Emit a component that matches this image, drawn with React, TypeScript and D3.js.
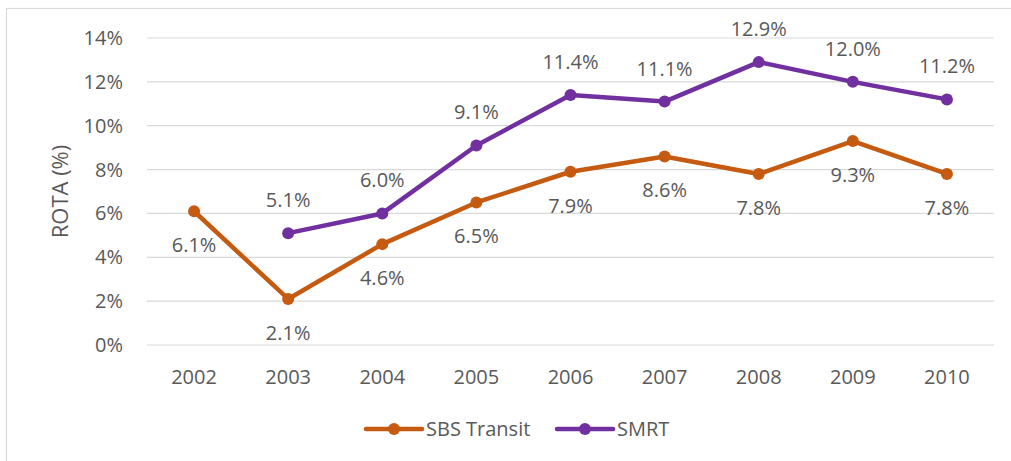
import React from "react";
import * as d3 from "d3";

const years = ["2002", "2003", "2004", "2005", "2006", "2007", "2008", "2009", "2010"];
const sbsTransit: (number | null)[] = [6.1, 2.1, 4.6, 6.5, 7.9, 8.6, 7.8, 9.3, 7.8];
const smrt: (number | null)[] = [null, 5.1, 6.0, 9.1, 11.4, 11.1, 12.9, 12.0, 11.2];
const yTicks = [0, 2, 4, 6, 8, 10, 12, 14];
const seriesNames = ["SBS Transit", "SMRT"];

const W = 1011;
const H = 461;
const FONT = "'Open Sans', 'Liberation Sans', sans-serif";
const TXT = "#595959";
const COLORS = ["#C55A11", "#7030A0"];
const FS = 20;

export default function App() {
  const x = d3.scaleBand<string>().domain(years).range([147, 994]);
  const y = d3.scaleLinear().domain([0, 14]).range([345, 38]);
  const cx = (d: string) => (x(d) as number) + x.bandwidth() / 2;

  const line = d3
    .line<{ year: string; v: number | null }>()
    .defined((d) => d.v !== null)
    .x((d) => cx(d.year))
    .y((d) => y(d.v as number));

  const series = [sbsTransit, smrt].map((vals) => years.map((yr, i) => ({ year: yr, v: vals[i] })));

  return (
    <svg width={W} height={H} style={{ position: "absolute", left: 0, top: 0 }}>
      <rect x={0} y={0} width={W} height={H} fill="#fff" />
      <rect x={6.5} y={8.5} width={W + 10} height={H + 10} fill="none" stroke="#d9d9d9" strokeWidth={1.2} />
      {yTicks.map((t) => (
        <g key={t}>
          <line x1={147} x2={994} y1={y(t)} y2={y(t)} stroke="#d9d9d9" strokeWidth={1.2} />
          <text x={123} y={y(t)} dy="0.35em" textAnchor="end" fontFamily={FONT} fontSize={FS} fill={TXT}>
            {t}%
          </text>
        </g>
      ))}
      {years.map((yr) => (
        <text key={yr} x={cx(yr)} y={377} dy="0.35em" textAnchor="middle" fontFamily={FONT} fontSize={FS} fill={TXT}>
          {yr}
        </text>
      ))}
      <text
        transform={`translate(60, ${(y(0) + y(14)) / 2}) rotate(-90)`}
        textAnchor="middle"
        dy="0.35em"
        fontFamily={FONT}
        fontSize={22}
        fill={TXT}
      >
        ROTA (%)
      </text>
      {series.map((s, si) => (
        <g key={si}>
          <path d={line(s) || ""} fill="none" stroke={COLORS[si]} strokeWidth={4.5} strokeLinejoin="round" strokeLinecap="round" />
          {s
            .filter((d) => d.v !== null)
            .map((d) => (
              <g key={d.year}>
                <circle cx={cx(d.year)} cy={y(d.v as number)} r={6} fill={COLORS[si]} />
                <text
                  x={cx(d.year)}
                  y={y(d.v as number) + (si === 0 ? 34 : -33)}
                  dy="0.35em"
                  textAnchor="middle"
                  fontFamily={FONT}
                  fontSize={FS}
                  fill={TXT}
                >
                  {(d.v as number).toFixed(1)}%
                </text>
              </g>
            ))}
        </g>
      ))}
      {seriesNames.map((name, i) => {
        const lx = i === 0 ? 366 : 557;
        return (
          <g key={name}>
            <line x1={lx} x2={lx + 56} y1={429} y2={429} stroke={COLORS[i]} strokeWidth={4.5} strokeLinecap="round" />
            <circle cx={lx + 28} cy={429} r={6} fill={COLORS[i]} />
            <text x={lx + 60} y={429} dy="0.35em" fontFamily={FONT} fontSize={FS} fill={TXT}>
              {name}
            </text>
          </g>
        );
      })}
    </svg>
  );
}
